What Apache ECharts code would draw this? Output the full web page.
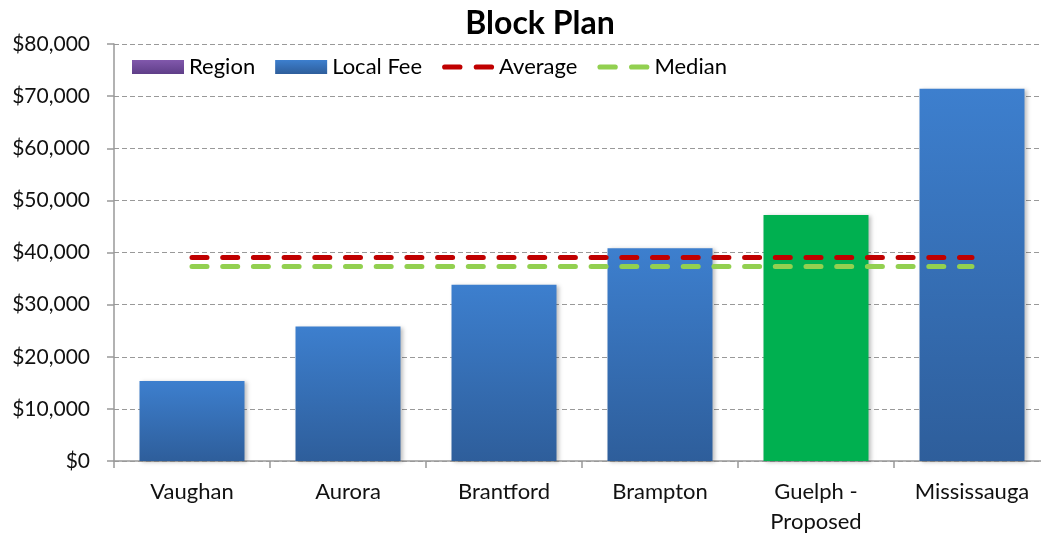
<!DOCTYPE html>
<html>
<head>
<meta charset="utf-8">
<script src="https://cdn.jsdelivr.net/npm/echarts@6/dist/echarts.min.js"></script>
<style>
  html, body { margin: 0; padding: 0; background: #fff; }
  #chart { width: 1041px; height: 538px; }
</style>
</head>
<body>
<div id="chart"></div>
<script>
// Block plan fees by municipality
const categories = ['Vaughan', 'Aurora', 'Brantford', 'Brampton', 'Guelph -\nProposed', 'Mississauga'];
const regionFees = [];
const localFees = [15350, 25800, 33800, 40800, 47200, 71400];
const averageFee = [39060, 39060, 39060, 39060, 39060, 39060];
const medianFee = [37300, 37300, 37300, 37300, 37300, 37300];
const proposedCategory = 'Guelph -\nProposed';
const yTicks = { min: 0, max: 80000, step: 10000 };

const FONT = 'Lato, "Open Sans", sans-serif';

const blueGradient = new echarts.graphic.LinearGradient(0, 0, 0, 1, [
  { offset: 0, color: '#3D7FCE' },
  { offset: 1, color: '#2E5E9B' }
]);
const purpleGradient = new echarts.graphic.LinearGradient(0, 0, 0, 1, [
  { offset: 0, color: '#8158AC' },
  { offset: 1, color: '#5F3E88' }
]);

// two rounded dashes used as the legend marker of the dashed reference lines
const dashIcon = 'path://M2.5,0h15a2.5,2.5 0 0 1 0,5h-15a2.5,2.5 0 0 1 0,-5z' +
                 'M33.5,0h15a2.5,2.5 0 0 1 0,5h-15a2.5,2.5 0 0 1 0,-5z';

const localData = localFees.map((v, i) => {
  if (categories[i] === proposedCategory) {
    return { value: v, itemStyle: { color: '#00B050' } };
  }
  return v;
});

const barShadow = {
  shadowBlur: 4,
  shadowColor: 'rgba(0,0,0,0.25)',
  shadowOffsetX: 2,
  shadowOffsetY: 1
};

const chart = echarts.init(document.getElementById('chart'), null, { renderer: 'canvas' });

chart.setOption({
  animation: false,
  backgroundColor: '#ffffff',
  title: {
    text: 'Block Plan',
    left: 535,
    textAlign: 'center',
    top: 3,
    textStyle: { fontFamily: FONT, fontSize: 32, fontWeight: 'bold', color: '#000' }
  },
  legend: {
    left: 127,
    top: 51,
    itemWidth: 52,
    itemHeight: 14,
    itemGap: 20,
    textStyle: { fontFamily: FONT, fontSize: 22, color: '#000' },
    data: [
      { name: 'Region', icon: 'rect' },
      { name: 'Local Fee', icon: 'rect' },
      { name: 'Average', icon: dashIcon },
      { name: 'Median', icon: dashIcon }
    ]
  },
  grid: {
    left: 114,
    right: -9,
    top: 44,
    bottom: 77,
    containLabel: false,
    outerBoundsMode: 'none'
  },
  xAxis: {
    type: 'category',
    data: categories,
    axisLine: { show: true, lineStyle: { color: '#999', width: 1.5 } },
    axisTick: { show: true, length: 7, lineStyle: { color: '#999', width: 1.5 } },
    axisLabel: {
      fontFamily: FONT, fontSize: 22, color: '#111', margin: 16, lineHeight: 30
    }
  },
  yAxis: {
    type: 'value',
    min: yTicks.min,
    max: yTicks.max,
    interval: yTicks.step,
    axisLine: { show: true, lineStyle: { color: '#999', width: 1.5 } },
    axisTick: { show: true, length: 7, lineStyle: { color: '#999', width: 1.5 } },
    axisLabel: {
      fontFamily: FONT, fontSize: 21, color: '#111', margin: 24,
      formatter: v => '$' + v.toLocaleString('en-US')
    },
    splitLine: { show: true, lineStyle: { color: '#999', type: [5, 3], width: 1 } }
  },
  series: [
    {
      name: 'Region',
      type: 'bar',
      stack: 'fee',
      barWidth: 105,
      data: regionFees,
      itemStyle: { color: purpleGradient }
    },
    {
      name: 'Local Fee',
      type: 'bar',
      stack: 'fee',
      barWidth: 105,
      data: localData,
      itemStyle: Object.assign({ color: blueGradient }, barShadow)
    },
    {
      name: 'Average',
      type: 'line',
      data: averageFee,
      symbol: 'none',
      z: 5,
      itemStyle: { color: '#C00000', borderWidth: 0 },
      lineStyle: { color: '#C00000', width: 5, type: [15, 15.7], cap: 'round' }
    },
    {
      name: 'Median',
      type: 'line',
      data: medianFee,
      symbol: 'none',
      z: 4,
      itemStyle: { color: '#92D050', borderWidth: 0 },
      lineStyle: { color: '#92D050', width: 5, type: [15, 15.7], cap: 'round' }
    }
  ]
});
</script>
</body>
</html>
